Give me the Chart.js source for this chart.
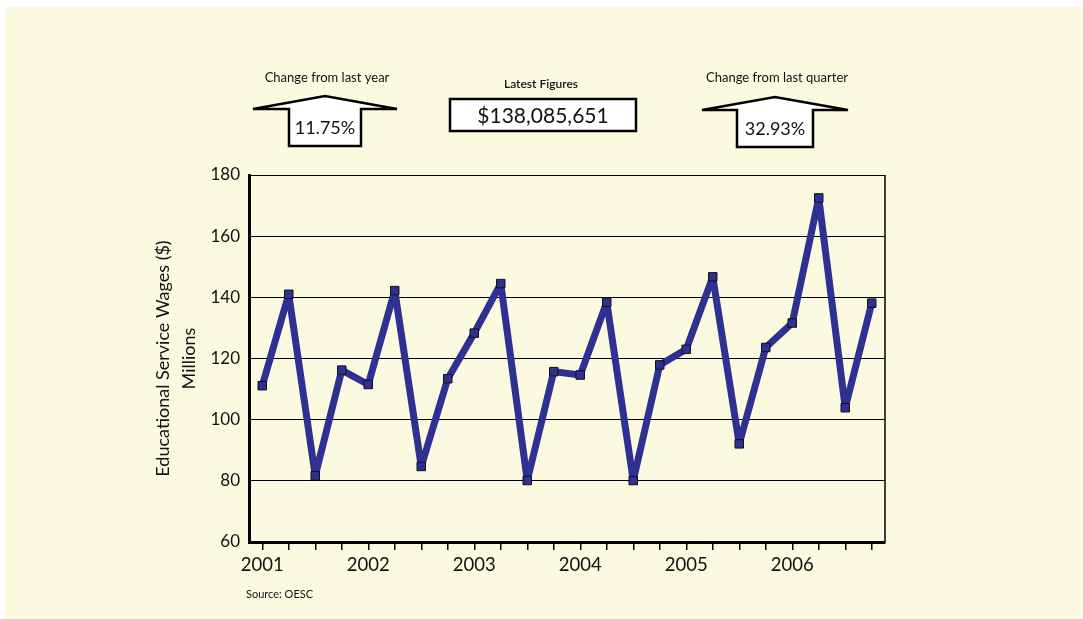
<!DOCTYPE html>
<html>
<head>
<meta charset="utf-8">
<script src="https://cdn.jsdelivr.net/npm/chart.js@4.4.1/dist/chart.umd.min.js"></script>
<style>
  html, body { margin: 0; padding: 0; background: #fcf9e1; overflow: hidden; }
  #borde-sup { position: absolute; left: 0; top: 0; width: 1200px; height: 7px; background: #ffffff; }
  #borde-izq { position: absolute; left: 0; top: 0; width: 5px; height: 700px; background: #ffffff; }
  #lienzo { position: absolute; left: 0; top: 0; }
</style>
</head>
<body>
<div id="borde-sup"></div>
<div id="borde-izq"></div>
<canvas id="lienzo" width="1083" height="619"></canvas>
<script>
// trimestres
const trimestres = [
    "2001 T1", "2001 T2", "2001 T3", "2001 T4",
    "2002 T1", "2002 T2", "2002 T3", "2002 T4",
    "2003 T1", "2003 T2", "2003 T3", "2003 T4",
    "2004 T1", "2004 T2", "2004 T3", "2004 T4",
    "2005 T1", "2005 T2", "2005 T3", "2005 T4",
    "2006 T1", "2006 T2", "2006 T3", "2006 T4",
];
// salarios en millones de dolares
const salarios = [
    111.1, 141.0, 81.7, 116.2,
    111.5, 142.2, 84.7, 113.4,
    128.3, 144.5, 80.1, 115.7,
    114.6, 138.4, 80.1, 117.9,
    123.0, 146.7, 92.1, 123.6,
    131.6, 172.5, 103.9, 138.1,
];
const anios = ["2001", "2002", "2003", "2004", "2005", "2006"];
const ejeY = { min: 60, max: 180, paso: 20 };

const cambioAnual = "11.75%";
const ultimaCifra = "$138,085,651";
const cambioTrimestral = "32.93%";
const fuente = "Source: OESC";

const FUENTE = "Lato, 'Noto Sans', sans-serif";

function flecha(ctx, cx, puntaY, alaY, alaMedia, tronco, baseY, texto) {
    ctx.save();
    ctx.beginPath();
    ctx.moveTo(cx - tronco, baseY);
    ctx.lineTo(cx - tronco, alaY);
    ctx.lineTo(cx - alaMedia, alaY);
    ctx.lineTo(cx, puntaY);
    ctx.lineTo(cx + alaMedia, alaY);
    ctx.lineTo(cx + tronco, alaY);
    ctx.lineTo(cx + tronco, baseY);
    ctx.closePath();
    ctx.fillStyle = "#ffffff";
    ctx.fill();
    ctx.lineWidth = 2.5;
    ctx.lineJoin = "miter";
    ctx.strokeStyle = "#000000";
    ctx.stroke();
    ctx.fillStyle = "#111111";
    ctx.font = "18px " + FUENTE;
    ctx.textAlign = "center";
    ctx.textBaseline = "middle";
    ctx.fillText(texto, cx, (alaY + baseY) / 2 + 1);
    ctx.restore();
}

const adornos = {
    id: "adornos",
    afterDraw(chart) {
        const ctx = chart.ctx;
        const area = chart.chartArea;
        ctx.save();
        // borde derecho del area
        ctx.strokeStyle = "#000000";
        ctx.lineWidth = 1.5;
        ctx.beginPath();
        ctx.moveTo(area.right, area.top);
        ctx.lineTo(area.right, area.bottom);
        ctx.stroke();

        ctx.fillStyle = "#111111";
        ctx.textAlign = "center";
        ctx.textBaseline = "middle";
        ctx.font = "13px " + FUENTE;
        ctx.fillText("Change from last year", 327, 78);
        ctx.fillText("Change from last quarter", 777, 78);
        ctx.font = "600 12px " + FUENTE;
        ctx.fillText("Latest Figures", 541, 84);

        // caja de la ultima cifra
        ctx.fillStyle = "#ffffff";
        ctx.fillRect(450, 99, 186, 32);
        ctx.lineWidth = 2.5;
        ctx.strokeRect(450, 99, 186, 32);
        ctx.fillStyle = "#111111";
        ctx.font = "21px " + FUENTE;
        ctx.fillText(ultimaCifra, 543, 116);

        ctx.textAlign = "left";
        ctx.font = "11px " + FUENTE;
        ctx.fillText(fuente, 246, 594);
        ctx.restore();

        flecha(ctx, 325, 96, 109, 72, 36, 146, cambioAnual);
        flecha(ctx, 775, 97, 110, 73, 38, 147, cambioTrimestral);
    },
};

const ctx = document.getElementById("lienzo").getContext("2d");
const grafico = new Chart(ctx, {
    type: "line",
    data: {
        labels: trimestres,
        datasets: [
            {
                data: salarios,
                borderColor: "#2e3192",
                borderWidth: 7,
                borderJoinStyle: "round",
                borderCapStyle: "round",
                tension: 0,
                pointStyle: "rect",
                pointRadius: 6,
                pointBackgroundColor: "#2e3192",
                pointBorderColor: "#111111",
                pointBorderWidth: 1,
                fill: false,
            },
        ],
    },
    options: {
        responsive: false,
        animation: false,
        events: [],
        layout: { padding: { left: 145, right: 198, top: 175, bottom: 0 } },
        plugins: { legend: { display: false }, tooltip: { enabled: false } },
        scales: {
            x: {
                offset: true,
                afterFit(escala) { escala.height = 77; },
                grid: {
                    drawOnChartArea: false,
                    drawTicks: true,
                    tickLength: 8,
                    color: "#000000",
                    lineWidth: 1.5,
                },
                border: { display: true, color: "#000000", width: 3 },
                ticks: {
                    autoSkip: false,
                    maxRotation: 0,
                    padding: 4,
                    color: "#111111",
                    font: { family: FUENTE, size: 18.5 },
                    callback: (v, i) => (i % 4 === 0 ? anios[i / 4] : ""),
                },
            },
            y: {
                min: ejeY.min,
                max: ejeY.max,
                afterFit(escala) { escala.width = 104; },
                grid: { color: "#000000", lineWidth: 1, drawTicks: false },
                border: { display: true, color: "#000000", width: 3 },
                ticks: {
                    stepSize: ejeY.paso,
                    padding: 9,
                    color: "#111111",
                    font: { family: FUENTE, size: 17 },
                },
                title: {
                    display: true,
                    text: ["Educational Service Wages ($)", "Millions"],
                    color: "#111111",
                    font: { family: FUENTE, size: 18, lineHeight: 1.4 },
                    padding: { top: 6, bottom: 0 },
                },
            },
        },
    },
    plugins: [adornos],
});
</script>
</body>
</html>
